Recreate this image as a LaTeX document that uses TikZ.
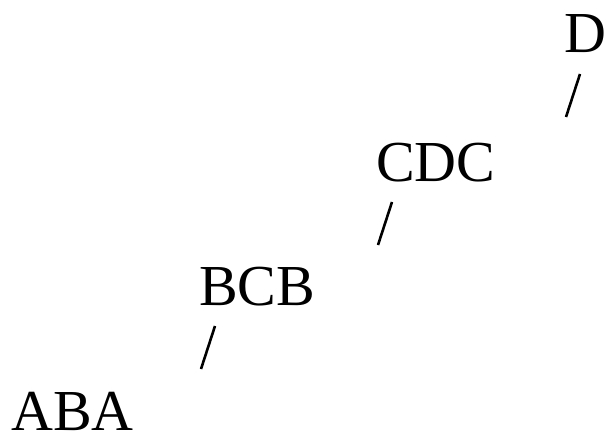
\documentclass[tikz,border=0pt]{standalone}
\usepackage{fontspec}
\setmainfont{Liberation Serif}
\usetikzlibrary{positioning}

\tikzset{
    word/.style={inner sep=0pt, anchor=base west, font=\fontsize{58}{70}\selectfont},
    edge/.style={line width=2.6pt}
}

\begin{document}
\begin{tikzpicture}[x=1pt, y=1pt]
    \useasboundingbox (0,0) rectangle (609,432);
    \node[word] (aba) at (11,2) {ABA};
    \node[word, above right=125pt and 188pt of aba.base west, anchor=base west] (bcb) {BCB};
    \node[word, above right=124pt and 177pt of bcb.base west, anchor=base west] (cdc) {CDC};
    \node[word, above right=128pt and 188pt of cdc.base west, anchor=base west] (d) {D};
    \foreach \up in {bcb, cdc, d}
        \draw[edge] ([shift={(16pt,-21pt)}]\up.base west) -- ([shift={(2pt,-64pt)}]\up.base west);
\end{tikzpicture}
\end{document}
